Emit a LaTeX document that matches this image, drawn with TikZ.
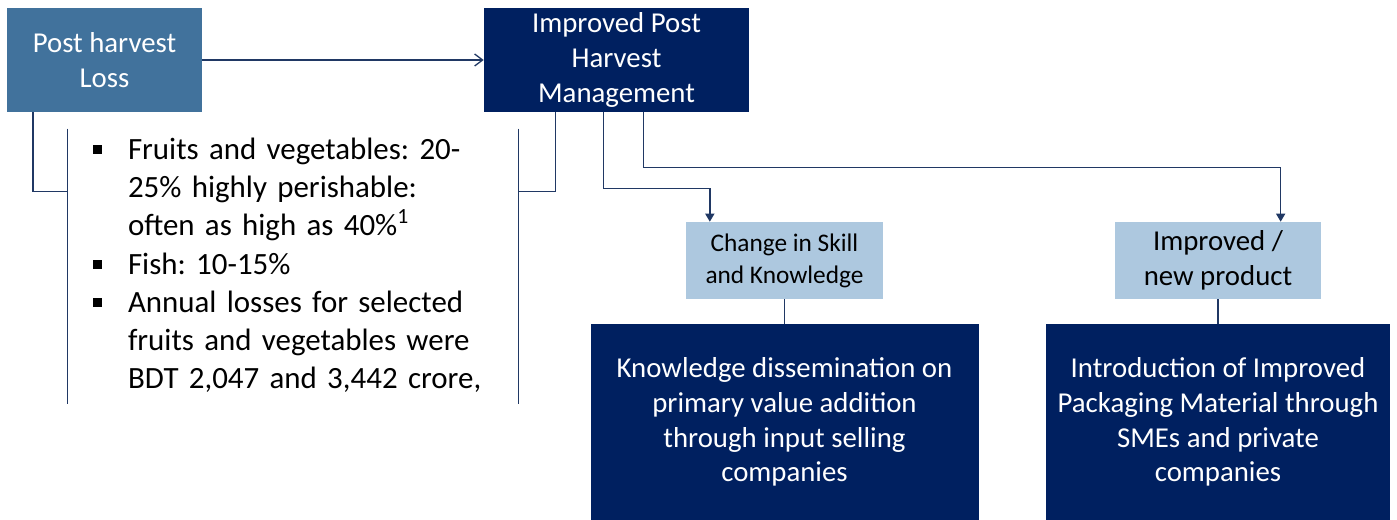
\documentclass[tikz,border=0pt]{standalone}
\usepackage{fontspec}
\setmainfont{Carlito}
\frenchspacing
\usetikzlibrary{arrows.meta}
\definecolor{navy}{HTML}{002060}
\definecolor{steel}{HTML}{41729C}
\definecolor{pale}{HTML}{ADC8DF}
\definecolor{linkblue}{HTML}{203864}
\tikzset{
  darkbox/.style={rectangle, fill=navy, text=white, align=center, inner sep=0pt,
    font=\fontsize{21.6}{26}\selectfont},
  palebox/.style={rectangle, fill=pale, text=black, align=center, inner sep=0pt},
  link/.style={draw=linkblue, line width=1pt},
}

\begin{document}
\begin{tikzpicture}[x=0.75pt,y=-0.75pt]
\useasboundingbox (0,0) rectangle (1397,520);

\node[darkbox, fill=steel, minimum width = 146.25pt,
    minimum height = 78pt] (loss) at (104.5,60) {Post harvest\\Loss};
\node[darkbox, minimum width = 198.75pt,
    minimum height = 78pt] (phm) at (616.5,60) {Improved Post\\Harvest\\Management};

\node[palebox, font=\fontsize{19}{24}\selectfont, minimum width = 147.75pt,
    minimum height = 57.75pt] (skill) at (784.5,260.5) {Change in Skill\\and Knowledge};
\node[palebox, font=\fontsize{21.6}{26.25}\selectfont, minimum width = 154.5pt,
    minimum height = 57.75pt] (product) at (1218,260.5) {Improved /\\new product};

\node[darkbox, minimum width = 291pt,
    minimum height = 147pt] (diss) at (784.5,422) {Knowledge dissemination on\\primary value addition\\through input selling\\companies};
\node[darkbox, minimum width = 258pt,
    minimum height = 147pt] (pack) at (1218,422) {Introduction of Improved\\Packaging Material through\\SMEs and private\\companies};

% loss facts
\node[text width=300pt, inner xsep=18.75pt, inner ysep=0pt, minimum height=206.25pt,
    align=left, font=\fontsize{23.2}{28.7}\selectfont] (facts) at (293,266.5) {%
  \begin{tabular}{@{}p{26.25pt}@{}l@{}}
  \raisebox{4pt}{\rule{6.5pt}{6.5pt}} & Fruits and vegetables: 20-\\
   & 25\% highly perishable:\\
   & often as high as 40\%\textsuperscript{1}\\
  \raisebox{4pt}{\rule{6.5pt}{6.5pt}} & Fish: 10-15\%\\
  \raisebox{4pt}{\rule{6.5pt}{6.5pt}} & Annual losses for selected\\
   & fruits and vegetables were\\
   & BDT 2,047 and 3,442 crore,
  \end{tabular}};
\draw[link] (facts.north west) -- (facts.south west);
\draw[link] (facts.north east) -- (facts.south east);

\draw[link] ([xshift=-53.6pt]loss.south) |- ([yshift=-47.25pt]facts.north west);
\draw[link] ([xshift=-46pt]phm.south) |- ([yshift=-47.25pt]facts.north east);

\draw[link, -{Straight Barb[length=6pt,width=9pt]}] (loss) -- (phm);
\draw[link, -{Triangle[length=6pt,width=6.75pt]}] ([xshift=-10pt]phm.south)
    -- ++(0,76) -| ([xshift=-56pt]skill.north);
\draw[link, -{Triangle[length=6pt,width=6.75pt]}] ([xshift=20pt]phm.south)
    -- ++(0,55) -| ([xshift=47pt]product.north);

\draw[link] (skill) -- (diss);
\draw[link] (product) -- (pack);
\end{tikzpicture}
\end{document}
